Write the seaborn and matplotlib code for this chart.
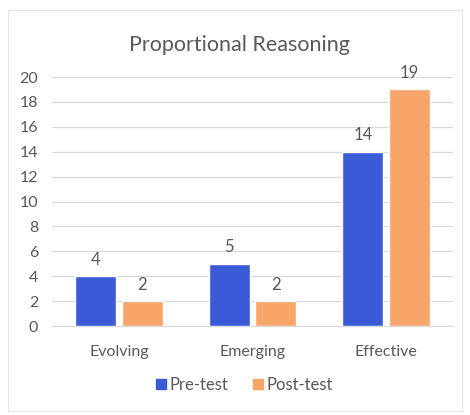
import pandas as pd
import matplotlib.pyplot as plt
import seaborn as sns
from matplotlib.patches import Rectangle

categories = ['Evolving', 'Emerging', 'Effective']
pre_test = [4, 5, 14]
post_test = [2, 2, 19]
series_names = ['Pre-test', 'Post-test']
y_ticks = [0, 2, 4, 6, 8, 10, 12, 14, 16, 18, 20]

df = pd.DataFrame({
    'Category': categories * 2,
    'Score': pre_test + post_test,
    'Test': [series_names[0]] * len(categories) + [series_names[1]] * len(categories),
})

sns.set_style('white')
plt.rcParams['font.family'] = ['Lato', 'DejaVu Sans']
text_col = '#595959'
palette = {'Pre-test': '#3a5ad6', 'Post-test': '#f9a468'}

fig = plt.figure(figsize=(4.7, 4.15), dpi=100)
ax = fig.add_axes([52 / 470, 1 - 326 / 415, 401 / 470, (326 - 77) / 415])

sns.barplot(data=df, x='Category', y='Score', hue='Test', order=categories,
            hue_order=series_names, palette=palette, width=0.7, gap=0.12,
            saturation=1, ax=ax, legend=False)

for cont in ax.containers:
    ax.bar_label(cont, fmt='%d', padding=6, color=text_col, fontsize=12)

ax.set_ylim(0, 20)
ax.set_xlim(-0.5, 2.5)
ax.set_yticks(y_ticks)
ax.yaxis.grid(True, color='#d9d9d9', linewidth=0.9)
ax.set_axisbelow(True)
for s in ax.spines.values():
    s.set_visible(False)
ax.spines['bottom'].set_visible(True)
ax.spines['bottom'].set_color('#d9d9d9')
ax.tick_params(axis='both', length=0, colors=text_col, labelsize=11.5)
ax.tick_params(axis='x', pad=14)
ax.tick_params(axis='y', pad=10)
ax.set_xlabel('')
ax.set_ylabel('')

fig.text(0.51, 1 - 45 / 415, 'Proportional Reasoning', ha='center', va='center',
         fontsize=15.5, color=text_col)

# legend
handles = [Rectangle((0, 0), 1, 1, color=palette[n]) for n in series_names]
fig.legend(handles, series_names, loc='center', bbox_to_anchor=(0.52, 1 - 385 / 415),
           ncol=2, frameon=False, fontsize=12, labelcolor=text_col,
           handlelength=0.6, handleheight=0.6, handletextpad=0.2, columnspacing=1.5)

# faint chart border
fig.patches.append(Rectangle((8 / 470, 0.01), 454 / 470, 1 - 10 / 415 - 0.01,
                             transform=fig.transFigure, fill=False,
                             edgecolor='#e6e6e6', linewidth=0.8))

plt.savefig('out.png', dpi=100)
plt.close()
